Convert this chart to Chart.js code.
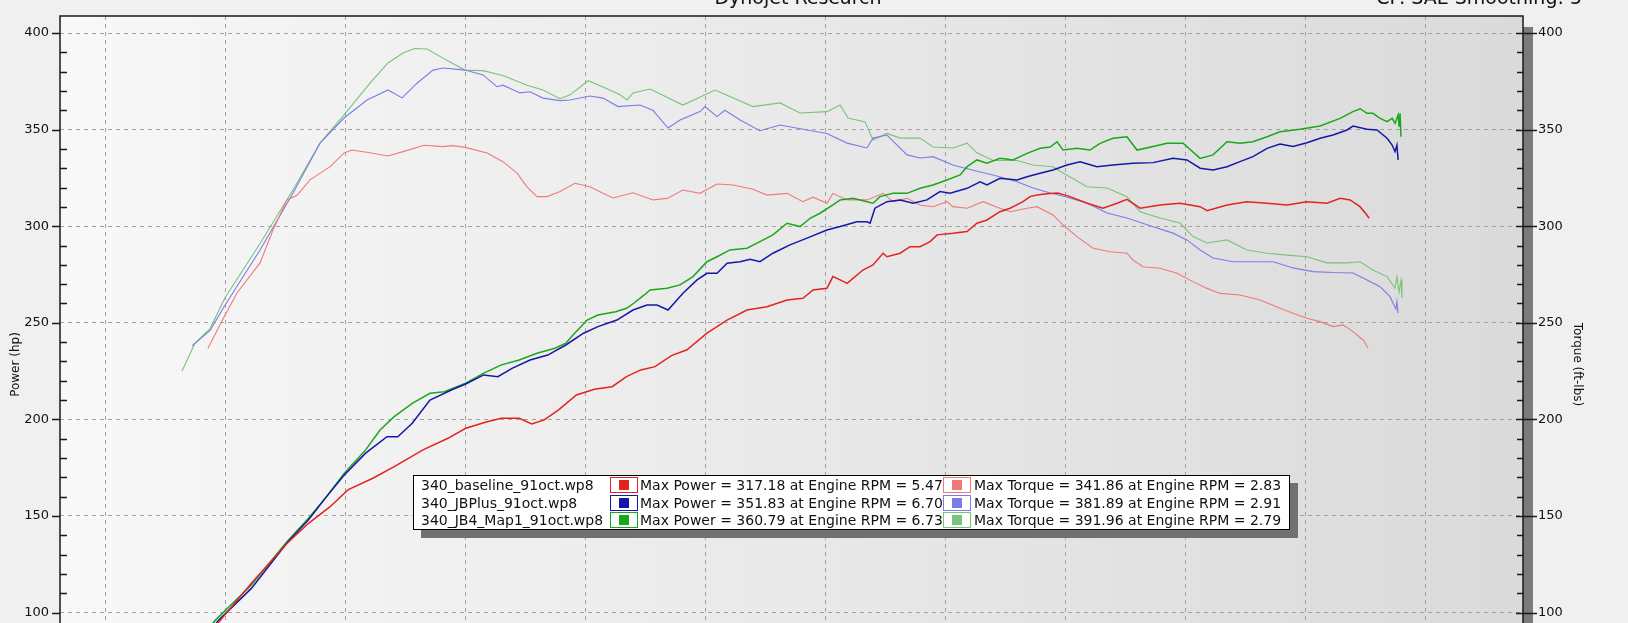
<!DOCTYPE html>
<html>
<head>
<meta charset="utf-8">
<title>Dynojet Research</title>
<script src="https://cdn.jsdelivr.net/npm/chart.js"></script>
<style>
  html, body { margin: 0; padding: 0; }
  body {
    width: 1628px; height: 623px; overflow: hidden; position: relative;
    background: #f0f0f0; font-family: "DejaVu Sans", Verdana, sans-serif; color: #111;
  }
  #dyno { position: absolute; left: 0; top: 0; }
  .head { position: absolute; top: -12px; font-size: 19px; line-height: 19px; white-space: nowrap; }
  #title { left: 0; width: 1596px; text-align: center; }
  #cf { right: 46px; }
  #legend {
    position: absolute; left: 413px; top: 475px; width: 875px; height: 53px;
    background: #fff; border: 1px solid #000; box-shadow: 8px 8px 0 #707070;
    font-size: 14px;
  }
  .row { position: absolute; left: 0; width: 100%; height: 17px; line-height: 17px; }
  .row span { position: absolute; top: 0; white-space: nowrap; }
  .row .sw { width: 26px; height: 14px; border: 1px solid; background: #fff; }
  .sw i { position: absolute; left: 8px; top: 2px; width: 10px; height: 10px; }
</style>
</head>
<body>
<canvas id="dyno" width="1628" height="723"></canvas>
<div class="head" id="title">Dynojet Research</div>
<div class="head" id="cf">CF: SAE Smoothing: 5</div>
<div id="legend"></div>
<script>
// runs shown in the legend box
const runNames = ['340_baseline_91oct.wp8', '340_JBPlus_91oct.wp8', '340_JB4_Map1_91oct.wp8'];
const maxPower = [317.18, 351.83, 360.79];
const maxPowerRpm = [5.47, 6.70, 6.73];
const maxTorque = [341.86, 381.89, 391.96];
const maxTorqueRpm = [2.83, 2.91, 2.79];
const powerColors = ['#e52222', '#1616a8', '#1aa81a'];
const torqueColors = ['#f07a7a', '#7c7ce6', '#78c478'];

// axes (engine rpm in thousands)
const rpmGrid = [1.5, 2, 2.5, 3, 3.5, 4, 4.5, 5, 5.5, 6, 6.5, 7];
const axisTicks = [50, 60, 70, 80, 90, 100, 110, 120, 130, 140, 150, 160, 170, 180, 190, 200,
  210, 220, 230, 240, 250, 260, 270, 280, 290, 300, 310, 320, 330, 340, 350, 360, 370, 380, 390, 400];

// [rpm, value]
const baselineTorque = [[1.929,236.8],[1.996,253],[2.05,265.4],[2.146,281],[2.2,298],[2.258,313.6],[2.3,316],[2.354,324],[2.438,330.8],[2.496,337.9],[2.529,339.4],[2.604,338],[2.679,336.3],[2.742,338.6],[2.83,341.9],[2.908,341.2],[2.95,341.7],[3.0,340.8],[3.092,337.9],[3.158,333.4],[3.217,327.5],[3.258,320.4],[3.3,315.3],[3.342,315.3],[3.396,317.9],[3.458,322.2],[3.521,320.4],[3.575,317],[3.617,314.6],[3.7,317.3],[3.783,313.6],[3.842,314.4],[3.908,318.7],[3.979,317],[4.05,321.8],[4.117,321.3],[4.2,319.1],[4.258,316.1],[4.342,317],[4.408,312.7],[4.45,315],[4.508,311.9],[4.533,317],[4.592,313.6],[4.675,313.6],[4.742,317],[4.783,312.7],[4.842,314.4],[4.896,311],[4.95,310.1],[5.008,312.7],[5.033,310.1],[5.092,309.3],[5.158,312.7],[5.229,309.3],[5.271,307.5],[5.342,309.3],[5.383,310.1],[5.45,305.8],[5.492,300.6],[5.55,294.6],[5.617,288.6],[5.688,286.8],[5.758,286],[5.783,282.5],[5.825,279],[5.896,278.2],[5.967,275.6],[6.033,271.3],[6.092,267.8],[6.146,265.2],[6.229,264.4],[6.313,261.8],[6.396,257.5],[6.45,254.9],[6.508,252.3],[6.563,250.6],[6.617,248],[6.658,248.9],[6.7,245.4],[6.742,241.1],[6.763,236.8]];

const jbplusTorque = [[1.863,238],[1.938,246],[1.996,258.3],[2.146,287.7],[2.283,317],[2.396,343],[2.496,356],[2.592,365.3],[2.679,370.5],[2.738,366.4],[2.8,374],[2.867,380.8],[2.91,381.9],[3.0,380.8],[3.075,378.3],[3.133,372.2],[3.158,373],[3.229,369],[3.271,369.6],[3.325,366.3],[3.396,365],[3.438,365.3],[3.521,367.4],[3.575,366.3],[3.638,361.9],[3.729,362.7],[3.783,360],[3.846,350.8],[3.896,355],[3.979,359.3],[4.0,361.9],[4.05,356.7],[4.083,360],[4.146,355],[4.229,349.4],[4.313,352.4],[4.425,349.8],[4.508,348],[4.592,343],[4.675,340.5],[4.7,345.6],[4.758,347.2],[4.842,336.9],[4.896,335.3],[4.95,336],[5.033,331.7],[5.117,329],[5.2,326.5],[5.3,323],[5.367,319.8],[5.438,317.2],[5.479,316],[5.592,312],[5.675,306.8],[5.758,304.2],[5.867,299.7],[5.95,296.4],[6.008,292.9],[6.063,287.7],[6.117,283.5],[6.2,281.6],[6.283,281.6],[6.367,281.6],[6.45,278.4],[6.533,276.5],[6.617,276],[6.7,275.8],[6.758,272.2],[6.813,268.7],[6.854,263.5],[6.879,257],[6.883,261],[6.888,255]];

const map1Torque = [[1.821,225],[1.875,239.5],[1.938,247],[2.0,263],[2.146,291],[2.283,318.7],[2.396,343],[2.496,357.6],[2.604,374],[2.679,384.5],[2.742,389.6],[2.79,392],[2.842,391.7],[2.908,387],[3.0,380.8],[3.075,380.5],[3.158,378],[3.258,373],[3.325,370.5],[3.396,366],[3.438,368],[3.513,375.3],[3.575,372],[3.646,368],[3.675,365.3],[3.7,369],[3.771,371],[3.908,362.7],[4.042,370.5],[4.2,361.9],[4.313,363.8],[4.396,358.6],[4.508,359.3],[4.563,362.7],[4.596,356],[4.667,354],[4.7,344.6],[4.758,348],[4.813,345.6],[4.896,345.6],[4.95,341],[5.033,340.5],[5.092,343],[5.133,338],[5.2,334],[5.3,334],[5.367,331.7],[5.45,330.8],[5.492,327.5],[5.592,320.4],[5.675,319.8],[5.758,315.3],[5.813,307.5],[5.896,304.2],[5.979,301.6],[6.033,294.6],[6.092,291.3],[6.175,292.9],[6.258,287.7],[6.342,286],[6.425,285],[6.508,284.2],[6.592,281],[6.675,281],[6.729,281.6],[6.783,277.3],[6.842,273.9],[6.875,268],[6.883,274],[6.892,266],[6.9,272],[6.904,263]];

const baselinePower = [[1.929,88],[1.976,95.3],[2.11,115.2],[2.259,135.9],[2.348,146.2],[2.438,154.8],[2.512,163.5],[2.616,169.5],[2.705,175.5],[2.825,184.2],[2.929,190.2],[3.003,195.4],[3.092,198.8],[3.152,200.6],[3.226,200.6],[3.278,197.6],[3.33,199.7],[3.39,204.9],[3.464,212.6],[3.539,215.6],[3.613,216.9],[3.673,222.1],[3.732,225.6],[3.792,227.3],[3.86,233],[3.925,236],[4.008,244.6],[4.092,251.4],[4.175,256.6],[4.258,258.3],[4.342,261.8],[4.408,262.7],[4.45,267],[4.508,267.9],[4.533,273.9],[4.563,272.2],[4.592,270.4],[4.658,277.3],[4.7,279.9],[4.742,286],[4.758,284.2],[4.813,286],[4.854,289.4],[4.896,289.4],[4.938,292],[4.967,295.5],[5.033,296.3],[5.092,297.2],[5.133,301.5],[5.175,303.2],[5.229,307.5],[5.271,309.3],[5.325,312.7],[5.354,315.3],[5.383,316.1],[5.425,316.8],[5.47,317.2],[5.521,315.3],[5.592,311.9],[5.658,309.3],[5.717,311.9],[5.758,313.9],[5.813,309.3],[5.896,311],[5.979,311.9],[6.063,310.1],[6.092,308],[6.175,311],[6.258,312.7],[6.342,311.9],[6.425,311],[6.508,312.7],[6.592,311.9],[6.646,314.4],[6.688,313.6],[6.729,310.1],[6.758,305.8],[6.767,304.1]];

const jbplusPower = [[1.863,80],[1.975,96.2],[2.11,112.5],[2.258,136],[2.348,148],[2.423,160],[2.497,171.2],[2.586,182.5],[2.675,191],[2.72,191],[2.78,198],[2.854,210],[2.943,215.2],[3.003,218.3],[3.078,223],[3.137,222.1],[3.196,226.4],[3.271,230.7],[3.345,233.3],[3.42,238.5],[3.494,244.6],[3.554,248],[3.633,251.4],[3.7,256.6],[3.758,259.2],[3.8,259.2],[3.846,256.6],[3.908,265.3],[3.967,272.2],[4.008,275.6],[4.05,275.6],[4.092,280.8],[4.146,281.6],[4.188,282.9],[4.229,281.6],[4.283,286],[4.354,290.3],[4.425,293.8],[4.508,298],[4.563,299.8],[4.633,302.3],[4.675,302.3],[4.688,301.5],[4.708,309.3],[4.758,312.7],[4.813,313.6],[4.867,311.9],[4.925,313.6],[4.979,317.9],[5.021,317],[5.092,319.6],[5.146,323],[5.175,321.3],[5.229,324.8],[5.3,323.9],[5.342,325.6],[5.396,327.4],[5.45,329.1],[5.508,331.7],[5.563,333.4],[5.633,330.8],[5.7,331.7],[5.783,332.6],[5.867,332.9],[5.95,335.1],[6.008,334.3],[6.063,330],[6.117,329.1],[6.175,330.8],[6.229,333.4],[6.283,336],[6.342,340.3],[6.396,342.5],[6.45,341.2],[6.508,343.2],[6.563,345.5],[6.617,347.2],[6.675,349.8],[6.7,351.8],[6.758,350.2],[6.8,349.8],[6.842,345.5],[6.863,342],[6.875,338.6],[6.883,342],[6.888,334.3]];

const map1Power = [[1.821,76],[1.961,96.2],[2.11,114.3],[2.258,136.7],[2.348,148.8],[2.423,160],[2.497,172.1],[2.586,184.2],[2.646,194.5],[2.705,201.4],[2.78,208.3],[2.854,213.5],[2.914,214.3],[3.003,218.7],[3.078,223.9],[3.152,228.2],[3.226,230.7],[3.3,234.2],[3.375,236.8],[3.42,239.4],[3.45,243.7],[3.509,251.4],[3.554,254],[3.628,255.7],[3.673,257.5],[3.703,260.1],[3.747,264.4],[3.771,267],[3.842,267.9],[3.896,269.6],[3.95,273.9],[4.008,281.6],[4.05,284.2],[4.104,287.7],[4.175,288.6],[4.229,292],[4.283,295.5],[4.342,301.5],[4.396,299.8],[4.438,304.1],[4.479,306.7],[4.533,311],[4.563,313.6],[4.617,314.4],[4.675,312.7],[4.7,311.9],[4.729,315.3],[4.783,317],[4.842,317],[4.896,319.6],[4.95,321.3],[5.008,323.9],[5.063,326.5],[5.092,330.8],[5.133,334.3],[5.175,332.6],[5.229,335.1],[5.283,334.3],[5.342,337.7],[5.396,340.3],[5.438,341],[5.467,343.7],[5.492,339.4],[5.55,340.3],[5.604,339.4],[5.646,342.9],[5.7,345.5],[5.758,346.3],[5.8,339.4],[5.867,341.2],[5.925,342.9],[5.992,342.9],[6.063,335.1],[6.117,336.9],[6.175,343.7],[6.229,342.9],[6.283,343.7],[6.342,346.3],[6.396,348.9],[6.479,350.2],[6.563,351.9],[6.646,355.8],[6.7,359.3],[6.73,360.8],[6.758,358.4],[6.783,358.4],[6.813,355.8],[6.842,354.1],[6.863,355.8],[6.875,353.3],[6.888,357.6],[6.892,351.5],[6.896,358.4],[6.9,346.3]];

const FONT = '"DejaVu Sans", Verdana, sans-serif';
const toXY = pairs => pairs.map(([x, y]) => ({ x, y }));

// legend box (html, same layout as the dyno sheet)
const $legend = document.getElementById('legend');
runNames.forEach((name, i) => {
  const row = document.createElement('div');
  row.className = 'row';
  row.style.top = (1 + i * 17.5) + 'px';
  row.innerHTML =
    `<span style="left:7px">${name}</span>` +
    `<span class="sw" style="left:196px;border-color:${powerColors[i]}"><i style="background:${powerColors[i]}"></i></span>` +
    `<span style="left:226px">Max Power = ${maxPower[i].toFixed(2)} at Engine RPM = ${maxPowerRpm[i].toFixed(2)}</span>` +
    `<span class="sw" style="left:529px;border-color:${torqueColors[i]}"><i style="background:${torqueColors[i]}"></i></span>` +
    `<span style="left:560px">Max Torque = ${maxTorque[i].toFixed(2)} at Engine RPM = ${maxTorqueRpm[i].toFixed(2)}</span>`;
  $legend.appendChild(row);
});

// plot area shading
const plotBackground = {
  id: 'plotBackground',
  beforeDraw(chart) {
    const { ctx, chartArea: a } = chart;
    const g = ctx.createLinearGradient(a.left, 0, a.right, 0);
    g.addColorStop(0, '#f8f8f8');
    g.addColorStop(1, '#dadada');
    ctx.save();
    ctx.fillStyle = g;
    ctx.fillRect(a.left, a.top, a.right - a.left, a.bottom - a.top);
    ctx.restore();
  }
};

// frame, right hand bar and the small tick marks
const dynoFrame = {
  id: 'dynoFrame',
  afterDraw(chart) {
    const { ctx, chartArea: a, scales } = chart;
    ctx.save();
    ctx.fillStyle = '#7b7b7b';
    ctx.fillRect(a.right, a.top + 11, 10, a.bottom - a.top);
    ctx.strokeStyle = '#1a1a1a';
    ctx.lineWidth = 1.5;
    ctx.beginPath();
    ctx.moveTo(a.left, a.bottom);
    ctx.lineTo(a.left, a.top);
    ctx.lineTo(a.right, a.top);
    ctx.lineTo(a.right, a.bottom);
    ctx.stroke();
    ctx.lineWidth = 1.6;
    axisTicks.forEach(v => {
      const yl = Math.round(scales.yPower.getPixelForValue(v)) + 0.5;
      const yr = Math.round(scales.yTorque.getPixelForValue(v)) + 0.5;
      ctx.beginPath();
      if (v % 50 === 0) {
        ctx.moveTo(a.left - 8, yl); ctx.lineTo(a.left, yl);
        ctx.moveTo(a.right - 7, yr); ctx.lineTo(a.right + 14, yr);
      } else {
        ctx.moveTo(a.left, yl); ctx.lineTo(a.left + 7, yl);
        ctx.moveTo(a.right - 6, yr); ctx.lineTo(a.right, yr);
      }
      ctx.stroke();
    });
    ctx.restore();
  }
};

const tickLabel = v => (v % 50 === 0 && v >= 100 ? v : '');
// fixed axis widths, and no extra room asked for the end labels
const fitAxis = width => s => { s.width = width; s.paddingTop = 0; s.paddingBottom = 0; };

const myChart = new Chart('dyno', {
  type: 'line',
  data: {
    datasets: [
      { label: 'Power ' + runNames[0], data: toXY(baselinePower), borderColor: powerColors[0], borderWidth: 1.5, yAxisID: 'yPower' },
      { label: 'Power ' + runNames[1], data: toXY(jbplusPower), borderColor: powerColors[1], borderWidth: 1.5, yAxisID: 'yPower' },
      { label: 'Power ' + runNames[2], data: toXY(map1Power), borderColor: powerColors[2], borderWidth: 1.5, yAxisID: 'yPower' },
      { label: 'Torque ' + runNames[0], data: toXY(baselineTorque), borderColor: torqueColors[0], borderWidth: 1.1, yAxisID: 'yTorque' },
      { label: 'Torque ' + runNames[1], data: toXY(jbplusTorque), borderColor: torqueColors[1], borderWidth: 1.1, yAxisID: 'yTorque' },
      { label: 'Torque ' + runNames[2], data: toXY(map1Torque), borderColor: torqueColors[2], borderWidth: 1.1, yAxisID: 'yTorque' }
    ]
  },
  options: {
    responsive: false,
    animation: false,
    layout: { padding: { top: 16, left: 0, right: 0, bottom: 10 } },
    elements: { point: { radius: 0 }, line: { tension: 0, fill: false } },
    plugins: { legend: { display: false }, tooltip: { enabled: false } },
    scales: {
      x: {
        type: 'linear', min: 1.3125, max: 7.4083,
        afterBuildTicks: s => { s.ticks = rpmGrid.map(v => ({ value: v })); },
        afterFit: s => { s.height = 0; s.paddingLeft = 0; s.paddingRight = 0; },
        ticks: { display: false },
        grid: { color: '#a2a2a2', lineWidth: 1, drawTicks: false },
        border: { display: false, dash: [4, 4] }
      },
      yPower: {
        position: 'left', min: 48, max: 408.8,
        afterBuildTicks: s => { s.ticks = axisTicks.map(v => ({ value: v })); },
        afterFit: fitAxis(60),
        ticks: { autoSkip: false, padding: 11, color: '#111', font: { family: FONT, size: 13 }, callback: tickLabel },
        grid: { drawTicks: false, lineWidth: 1, color: c => (c.tick && c.tick.value % 50 === 0 ? '#a2a2a2' : 'rgba(0,0,0,0)') },
        border: { display: false, dash: [4, 4] },
        title: { display: true, text: 'Power (hp)', color: '#111', font: { family: FONT, size: 12 }, padding: { top: 9, bottom: 0 } }
      },
      yTorque: {
        position: 'right', min: 48, max: 408.8,
        afterBuildTicks: s => { s.ticks = axisTicks.map(v => ({ value: v })); },
        afterFit: fitAxis(105),
        ticks: { autoSkip: false, padding: 15, color: '#111', font: { family: FONT, size: 13 }, callback: tickLabel },
        grid: { drawOnChartArea: false, drawTicks: false },
        border: { display: false },
        title: { display: true, text: 'Torque (ft-lbs)', color: '#111', font: { family: FONT, size: 12 }, padding: { top: 44, bottom: 0 } }
      }
    }
  },
  plugins: [plotBackground, dynoFrame]
});
</script>
</body>
</html>
